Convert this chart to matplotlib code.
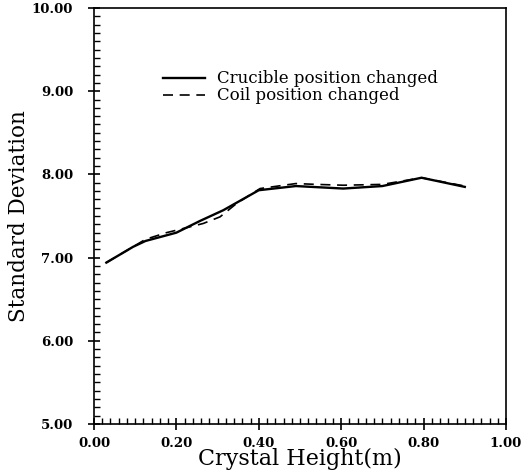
import numpy as np
import matplotlib
matplotlib.use('Agg')
import matplotlib.pyplot as plt
from matplotlib.ticker import MultipleLocator, FormatStrFormatter

# values
height_crucible = [0.03, 0.095, 0.125, 0.20, 0.257, 0.314, 0.40, 0.49, 0.605, 0.70, 0.795, 0.90]
std_crucible = [6.94, 7.13, 7.20, 7.30, 7.44, 7.57, 7.81, 7.86, 7.83, 7.86, 7.96, 7.85]

height_coil = [0.03, 0.095, 0.125, 0.176, 0.217, 0.265, 0.306, 0.346, 0.403, 0.49, 0.54, 0.605, 0.70, 0.795, 0.90]
std_coil = [6.94, 7.13, 7.22, 7.30, 7.35, 7.41, 7.49, 7.65, 7.83, 7.89, 7.88, 7.87, 7.88, 7.96, 7.86]

plt.rcParams['font.family'] = ['DejaVu Serif']

fig = plt.figure(figsize=(5.21, 4.76), dpi=100)
ax = fig.add_axes([0.1804, 0.1092, 0.7908, 0.874])

ax.plot(height_crucible, std_crucible, color='black', lw=1.7, label='Crucible position changed')
ax.plot(height_coil, std_coil, color='black', lw=1.2, linestyle=(0, (6, 4)), label='Coil position changed')

ax.set_xlim(0, 1.0)
ax.set_ylim(5.0, 10.0)
ax.xaxis.set_major_locator(MultipleLocator(0.2))
ax.xaxis.set_minor_locator(MultipleLocator(0.02))
ax.yaxis.set_major_locator(MultipleLocator(1.0))
ax.yaxis.set_minor_locator(MultipleLocator(0.1))
ax.xaxis.set_major_formatter(FormatStrFormatter('%.2f'))
ax.yaxis.set_major_formatter(FormatStrFormatter('%.2f'))
ax.tick_params(which='major', direction='inout', length=8, width=1.2, labelsize=9.5)
ax.tick_params(axis='x', which='major', pad=5)
ax.tick_params(axis='y', which='major', pad=11)
ax.tick_params(which='minor', direction='in', length=4, width=1.0)
for lbl in ax.get_xticklabels() + ax.get_yticklabels():
    lbl.set_fontweight('bold')
for sp in ax.spines.values():
    sp.set_linewidth(1.2)

ax.set_xlabel('Crystal Height(m)', fontsize=16, labelpad=-1)
ax.set_ylabel('Standard Deviation', fontsize=15.5, labelpad=1)

ax.legend(loc='upper left', bbox_to_anchor=(0.1675, 0.85), frameon=False, fontsize=12,
          handlelength=2.5, handletextpad=0.75, labelspacing=0.0, borderaxespad=0, borderpad=0)

fig.savefig('out.png', dpi=100)
